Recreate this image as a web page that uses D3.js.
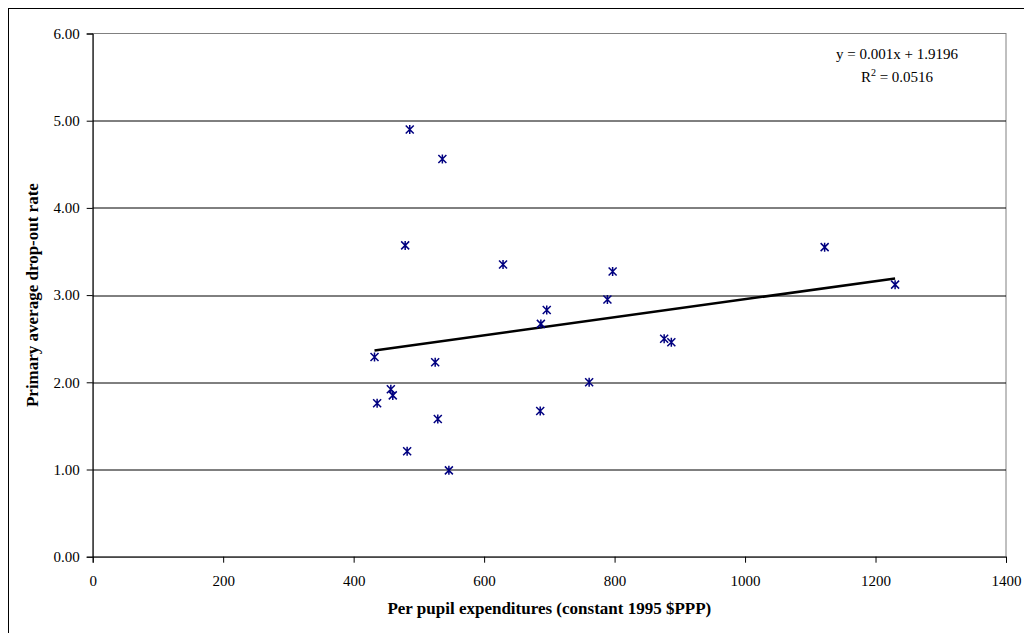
<!DOCTYPE html>
<html>
<head>
<meta charset="utf-8">
<script src="https://cdn.jsdelivr.net/npm/d3@7"></script>
<style>
  html, body { margin: 0; padding: 0; background: #fff; }
  svg { display: block; }
  text { font-family: "Liberation Serif", "Times New Roman", serif; fill: #000; }
  .tick-label { font-size: 15px; }
  .axis-label { font-size: 17px; font-weight: bold; }
</style>
</head>
<body>
<div id="chart"></div>
<script>
// Per pupil expenditures (x) vs primary average drop-out rate (y)
const expenditures = [432, 525, 457, 460, 436, 529, 686, 482, 546, 486, 536,
                      479, 629, 797, 789, 696, 687, 876, 887, 761, 1122, 1230];
const dropoutRates = [2.29, 2.23, 1.92, 1.85, 1.76, 1.58, 1.67, 1.21, 0.99, 4.90, 4.56,
                      3.57, 3.35, 3.27, 2.95, 2.83, 2.67, 2.50, 2.46, 2.00, 3.55, 3.12];

const xTicks = [0, 200, 400, 600, 800, 1000, 1200, 1400];
const yTicks = [0, 1, 2, 3, 4, 5, 6];

const equationLines = ["y = 0.001x + 1.9196", " = 0.0516"];

const W = 1024, H = 633;
const margin = { top: 33.5, right: 18, bottom: 76.3, left: 92.7 };
const width = W - margin.left - margin.right;
const height = H - margin.top - margin.bottom;

const svg = d3.select("#chart").append("svg")
  .attr("width", W)
  .attr("height", H);

// outer chart frame (runs off the right and bottom of the picture)
svg.append("rect")
  .attr("x", 8.5).attr("y", 8.5)
  .attr("width", 1100).attr("height", 700)
  .attr("fill", "none")
  .attr("stroke", "#000")
  .attr("stroke-width", 1);

const g = svg.append("g")
  .attr("transform", `translate(${margin.left},${margin.top})`);

const x = d3.scaleLinear().domain([0, 1400]).range([0, width]);
const y = d3.scaleLinear().domain([0, 6]).range([height, 0]);

// plot area border
g.append("rect")
  .attr("x", 0).attr("y", 0)
  .attr("width", width).attr("height", height)
  .attr("fill", "none")
  .attr("stroke", "#808080")
  .attr("stroke-width", 1);

// horizontal gridlines
g.selectAll(".grid")
  .data(yTicks.filter(d => d > 0 && d < 6))
  .enter().append("line")
  .attr("class", "grid")
  .attr("x1", 0).attr("x2", width)
  .attr("y1", d => Math.round(y(d)) + 0.5)
  .attr("y2", d => Math.round(y(d)) + 0.5)
  .attr("stroke", "#000")
  .attr("stroke-width", 1);

// axes
const yAxis = g.append("g")
  .call(d3.axisLeft(y).tickValues(yTicks).tickFormat(d3.format(".2f")).tickSize(6).tickPadding(7));
const xAxis = g.append("g")
  .attr("transform", `translate(0,${height})`)
  .call(d3.axisBottom(x).tickValues(xTicks).tickFormat(d3.format("d"))
    .tickSizeOuter(0).tickSize(6).tickPadding(13));

[xAxis, yAxis].forEach(a => {
  a.attr("font-family", null).attr("font-size", null);
  a.select(".domain").attr("stroke", "#000");
  a.selectAll(".tick line").attr("stroke", "#000");
  a.selectAll(".tick text").attr("class", "tick-label");
});

// linear trendline (least squares over the points)
const mx = d3.mean(expenditures), my = d3.mean(dropoutRates);
let sxy = 0, sxx = 0;
expenditures.forEach((v, i) => {
  sxy += (v - mx) * (dropoutRates[i] - my);
  sxx += (v - mx) * (v - mx);
});
const slope = sxy / sxx;
const intercept = my - slope * mx;
const xMin = d3.min(expenditures), xMax = d3.max(expenditures);

g.append("line")
  .attr("x1", x(xMin)).attr("y1", y(intercept + slope * xMin))
  .attr("x2", x(xMax)).attr("y2", y(intercept + slope * xMax))
  .attr("stroke", "#000")
  .attr("stroke-width", 2.5);

// star markers: X with a vertical bar
const s = 4;
const starPath = `M${-s},${-s}L${s},${s}M${-s},${s}L${s},${-s}M0,${-s - 0.5}L0,${s + 0.5}`;

g.selectAll(".pt")
  .data(expenditures.map((v, i) => ({ x: v, y: dropoutRates[i] })))
  .enter().append("path")
  .attr("class", "pt")
  .attr("transform", d => `translate(${x(d.x)},${y(d.y)})`)
  .attr("d", starPath)
  .attr("fill", "none")
  .attr("stroke", "#000080")
  .attr("stroke-width", 1.5);

// trendline equation
const eq = svg.append("g").attr("transform", "translate(897,0)");
eq.append("text")
  .attr("class", "tick-label")
  .attr("y", 59)
  .attr("text-anchor", "middle")
  .text(equationLines[0]);
const r2 = eq.append("text")
  .attr("class", "tick-label")
  .attr("y", 82)
  .attr("text-anchor", "middle");
r2.append("tspan").text("R");
r2.append("tspan").attr("dy", -6).attr("font-size", "10px").text("2");
r2.append("tspan").attr("dy", 6).text(equationLines[1]);

// axis titles
svg.append("text")
  .attr("class", "axis-label")
  .attr("x", margin.left + width / 2)
  .attr("y", 614)
  .attr("text-anchor", "middle")
  .text("Per pupil expenditures (constant 1995 $PPP)");

svg.append("text")
  .attr("class", "axis-label")
  .attr("transform", `translate(38,${margin.top + height / 2}) rotate(-90)`)
  .attr("text-anchor", "middle")
  .text("Primary average drop-out rate");
</script>
</body>
</html>
